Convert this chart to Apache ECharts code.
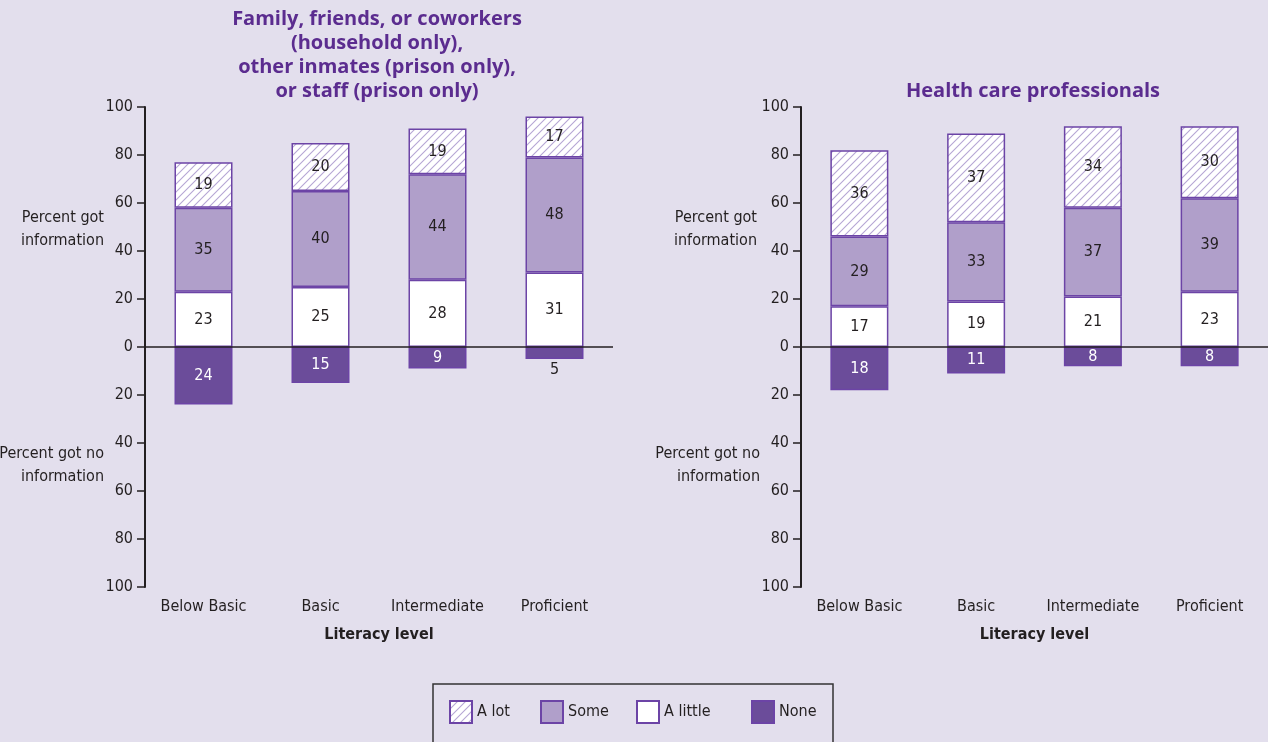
<!DOCTYPE html>
<html>
<head>
<meta charset="utf-8">
<script src="https://cdn.jsdelivr.net/npm/echarts@6/dist/echarts.min.js"></script>
<style>
  html, body { margin: 0; padding: 0; background: #E3DFED; }
  #chart { width: 1268px; height: 742px; }
</style>
</head>
<body>
<div id="chart"></div>
<script>
const categories = ['Below Basic', 'Basic', 'Intermediate', 'Proficient']
const yTicks = [-100, 100, 20]

// Family, friends, or coworkers ...
const famALot = [19, 20, 19, 17]
const famSome = [35, 40, 44, 48]
const famLittle = [23, 25, 28, 31]
const famNone = [24, 15, 9, 5]

// Health care professionals
const hcALot = [36, 37, 34, 30]
const hcSome = [29, 33, 37, 39]
const hcLittle = [17, 19, 21, 23]
const hcNone = [18, 11, 8, 8]

const font = "'Liberation Sans Narrow', 'DejaVu Sans Condensed', sans-serif"
const titleFont = "'Open Sans', 'Noto Sans', sans-serif"
const ink = '#231F20'
const purple = '#5B2C8F'
const border = '#6C44A6'

function hatch() {
  const c = document.createElement('canvas')
  c.width = c.height = 8
  const g = c.getContext('2d')
  g.fillStyle = '#ffffff'
  g.fillRect(0, 0, 8, 8)
  g.strokeStyle = '#B6A6D4'
  g.lineWidth = 1.1
  g.beginPath()
  g.moveTo(0, 8); g.lineTo(8, 0)
  g.moveTo(-2, 2); g.lineTo(2, -2)
  g.moveTo(6, 10); g.lineTo(10, 6)
  g.stroke()
  return c
}
const hatchFill = { image: hatch(), repeat: 'repeat' }

const label = { show: true, position: 'inside', color: ink, fontFamily: font, fontSize: 16 }

function stackSeries(idx, aLot, some, little, none) {
  return [
    {
      name: 'A little', type: 'bar', stack: 's' + idx, xAxisIndex: idx, yAxisIndex: idx,
      barWidth: 58, data: little,
      itemStyle: { color: '#ffffff', borderColor: border, borderWidth: 1.5 },
      label,
      markLine: {
        silent: true, symbol: 'none', animation: false,
        label: { show: false },
        lineStyle: { color: ink, width: 1.5, type: 'solid' },
        data: [{ yAxis: 0 }]
      }
    },
    {
      name: 'Some', type: 'bar', stack: 's' + idx, xAxisIndex: idx, yAxisIndex: idx,
      barWidth: 58, data: some,
      itemStyle: { color: '#B09FCA', borderColor: border, borderWidth: 1.5 },
      label
    },
    {
      name: 'A lot', type: 'bar', stack: 's' + idx, xAxisIndex: idx, yAxisIndex: idx,
      barWidth: 58, data: aLot,
      itemStyle: { color: hatchFill, borderColor: border, borderWidth: 1.5 },
      label
    },
    {
      name: 'None', type: 'bar', stack: 's' + idx, xAxisIndex: idx, yAxisIndex: idx,
      barWidth: 58,
      data: none.map(v => v < 7
        ? { value: -v, label: { position: 'bottom', color: ink, distance: 3 } }
        : -v),
      itemStyle: { color: '#6B4C9A', borderColor: border, borderWidth: 1.5 },
      label: Object.assign({}, label, { color: '#ffffff', formatter: p => Math.abs(p.value) })
    }
  ]
}

function xAxis(idx) {
  return {
    type: 'category', gridIndex: idx, data: categories,
    axisLine: { show: false }, axisTick: { show: false },
    axisLabel: { color: ink, fontFamily: font, fontSize: 16, margin: 12, interval: 0 },
    name: 'Literacy level', nameLocation: 'middle', nameGap: 40,
    nameTextStyle: { color: ink, fontFamily: font, fontSize: 16, fontWeight: 'bold' }
  }
}

function yAxis(idx) {
  return {
    type: 'value', gridIndex: idx, min: yTicks[0], max: yTicks[1], interval: yTicks[2],
    axisLine: { show: true, lineStyle: { color: ink, width: 2 } },
    axisTick: { show: true, length: 8, lineStyle: { color: ink, width: 1.5 } },
    splitLine: { show: false },
    axisLabel: { color: ink, fontFamily: font, fontSize: 16, margin: 12, formatter: v => Math.abs(v) }
  }
}

function legendItem(name, left) {
  return {
    data: [name], left, top: 700, padding: 0, icon: 'rect',
    itemWidth: 22, itemHeight: 22, selectedMode: false,
    textStyle: { color: ink, fontFamily: font, fontSize: 16 }
  }
}

function sideText(x, y, text) {
  return {
    type: 'text', x, y,
    style: {
      text, fill: ink, font: '16px ' + font, align: 'right', verticalAlign: 'middle', lineHeight: 23
    }
  }
}

const chart = echarts.init(document.getElementById('chart'))
chart.setOption({
  backgroundColor: '#E3DFED',
  animation: false,
  title: [
    {
      text: 'Family, friends, or coworkers\n(household only),\nother inmates (prison only),\nor staff (prison only)',
      left: 372, top: 2, textAlign: 'center',
      textStyle: { color: purple, fontFamily: titleFont, fontSize: 20, fontWeight: 'bold', lineHeight: 24, align: 'center' }
    },
    {
      text: 'Health care professionals',
      left: 1028, top: 74, textAlign: 'center',
      textStyle: { color: purple, fontFamily: titleFont, fontSize: 20, fontWeight: 'bold', lineHeight: 24 }
    }
  ],
  grid: [
    { left: 145, top: 107, width: 468, height: 480 },
    { left: 801, top: 107, width: 468, height: 480 }
  ],
  xAxis: [xAxis(0), xAxis(1)],
  yAxis: [yAxis(0), yAxis(1)],
  legend: [
    legendItem('A lot', 449),
    legendItem('Some', 540),
    legendItem('A little', 636),
    legendItem('None', 751)
  ],
  graphic: [
    { type: 'rect', shape: { x: 433, y: 684, width: 400, height: 90 }, style: { fill: 'none', stroke: '#333', lineWidth: 1.5 } },
    sideText(104, 229, 'Percent got\ninformation'),
    sideText(104, 465, 'Percent got no\ninformation'),
    sideText(757, 229, 'Percent got\ninformation'),
    sideText(760, 465, 'Percent got no\ninformation')
  ],
  series: [
    ...stackSeries(0, famALot, famSome, famLittle, famNone),
    ...stackSeries(1, hcALot, hcSome, hcLittle, hcNone)
  ]
})
</script>
</body>
</html>
